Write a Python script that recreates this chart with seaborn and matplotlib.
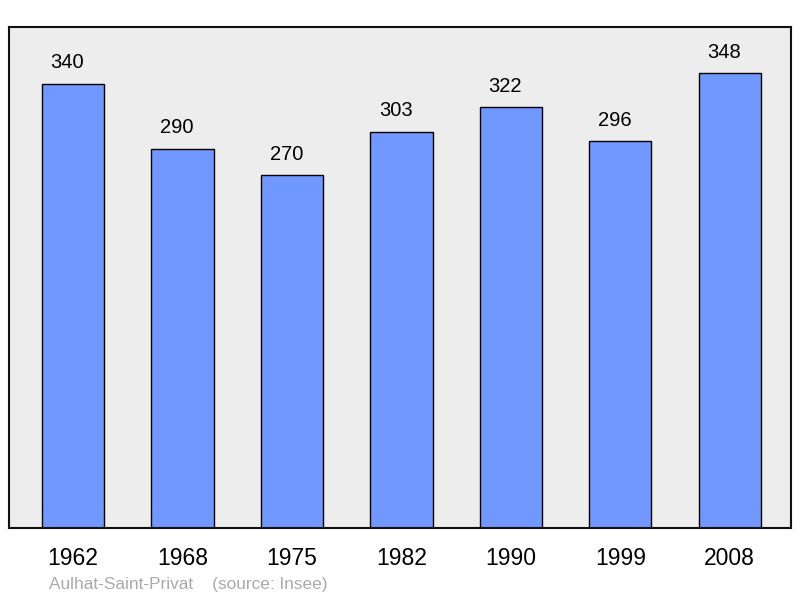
import pandas as pd
import seaborn as sns
import matplotlib.pyplot as plt

years = ['1962', '1968', '1975', '1982', '1990', '1999', '2008']
population = [340, 290, 270, 303, 322, 296, 348]

df = pd.DataFrame({'year': years, 'pop': population})

sns.set_style('white')
plt.rcParams['font.family'] = ['Liberation Sans', 'DejaVu Sans']

fig = plt.figure(figsize=(8, 5.98), dpi=100)
ax = fig.add_axes([9 / 800, 70 / 598, 782 / 800, 501 / 598])
ax.set_facecolor('#ededed')

sns.barplot(data=df, x='year', y='pop', color='#7098ff', saturation=1,
            width=0.57, edgecolor='black', linewidth=1.0, ax=ax)

# value labels above bars
for i, v in enumerate(population):
    ax.annotate(str(v), (i, v), xytext=(-4, 8.5), textcoords='offset points',
                ha='center', va='bottom', fontsize=14.5, color='black')

ax.set_xlim(-0.585, 6.56)
ax.set_ylim(0, 383.6)
ax.set_yticks([])
ax.set_xlabel('')
ax.set_ylabel('')
ax.tick_params(axis='x', length=0, labelsize=16.5, pad=14, labelcolor='black')
for s in ax.spines.values():
    s.set_linewidth(1.5)
    s.set_color('#111111')

fig.text(49 / 800, 1 - 585 / 598, 'Aulhat-Saint-Privat    (source: Insee)',
         fontsize=12.4, color='#aaaaaa', ha='left', va='center')

fig.savefig('out.png', dpi=100)
